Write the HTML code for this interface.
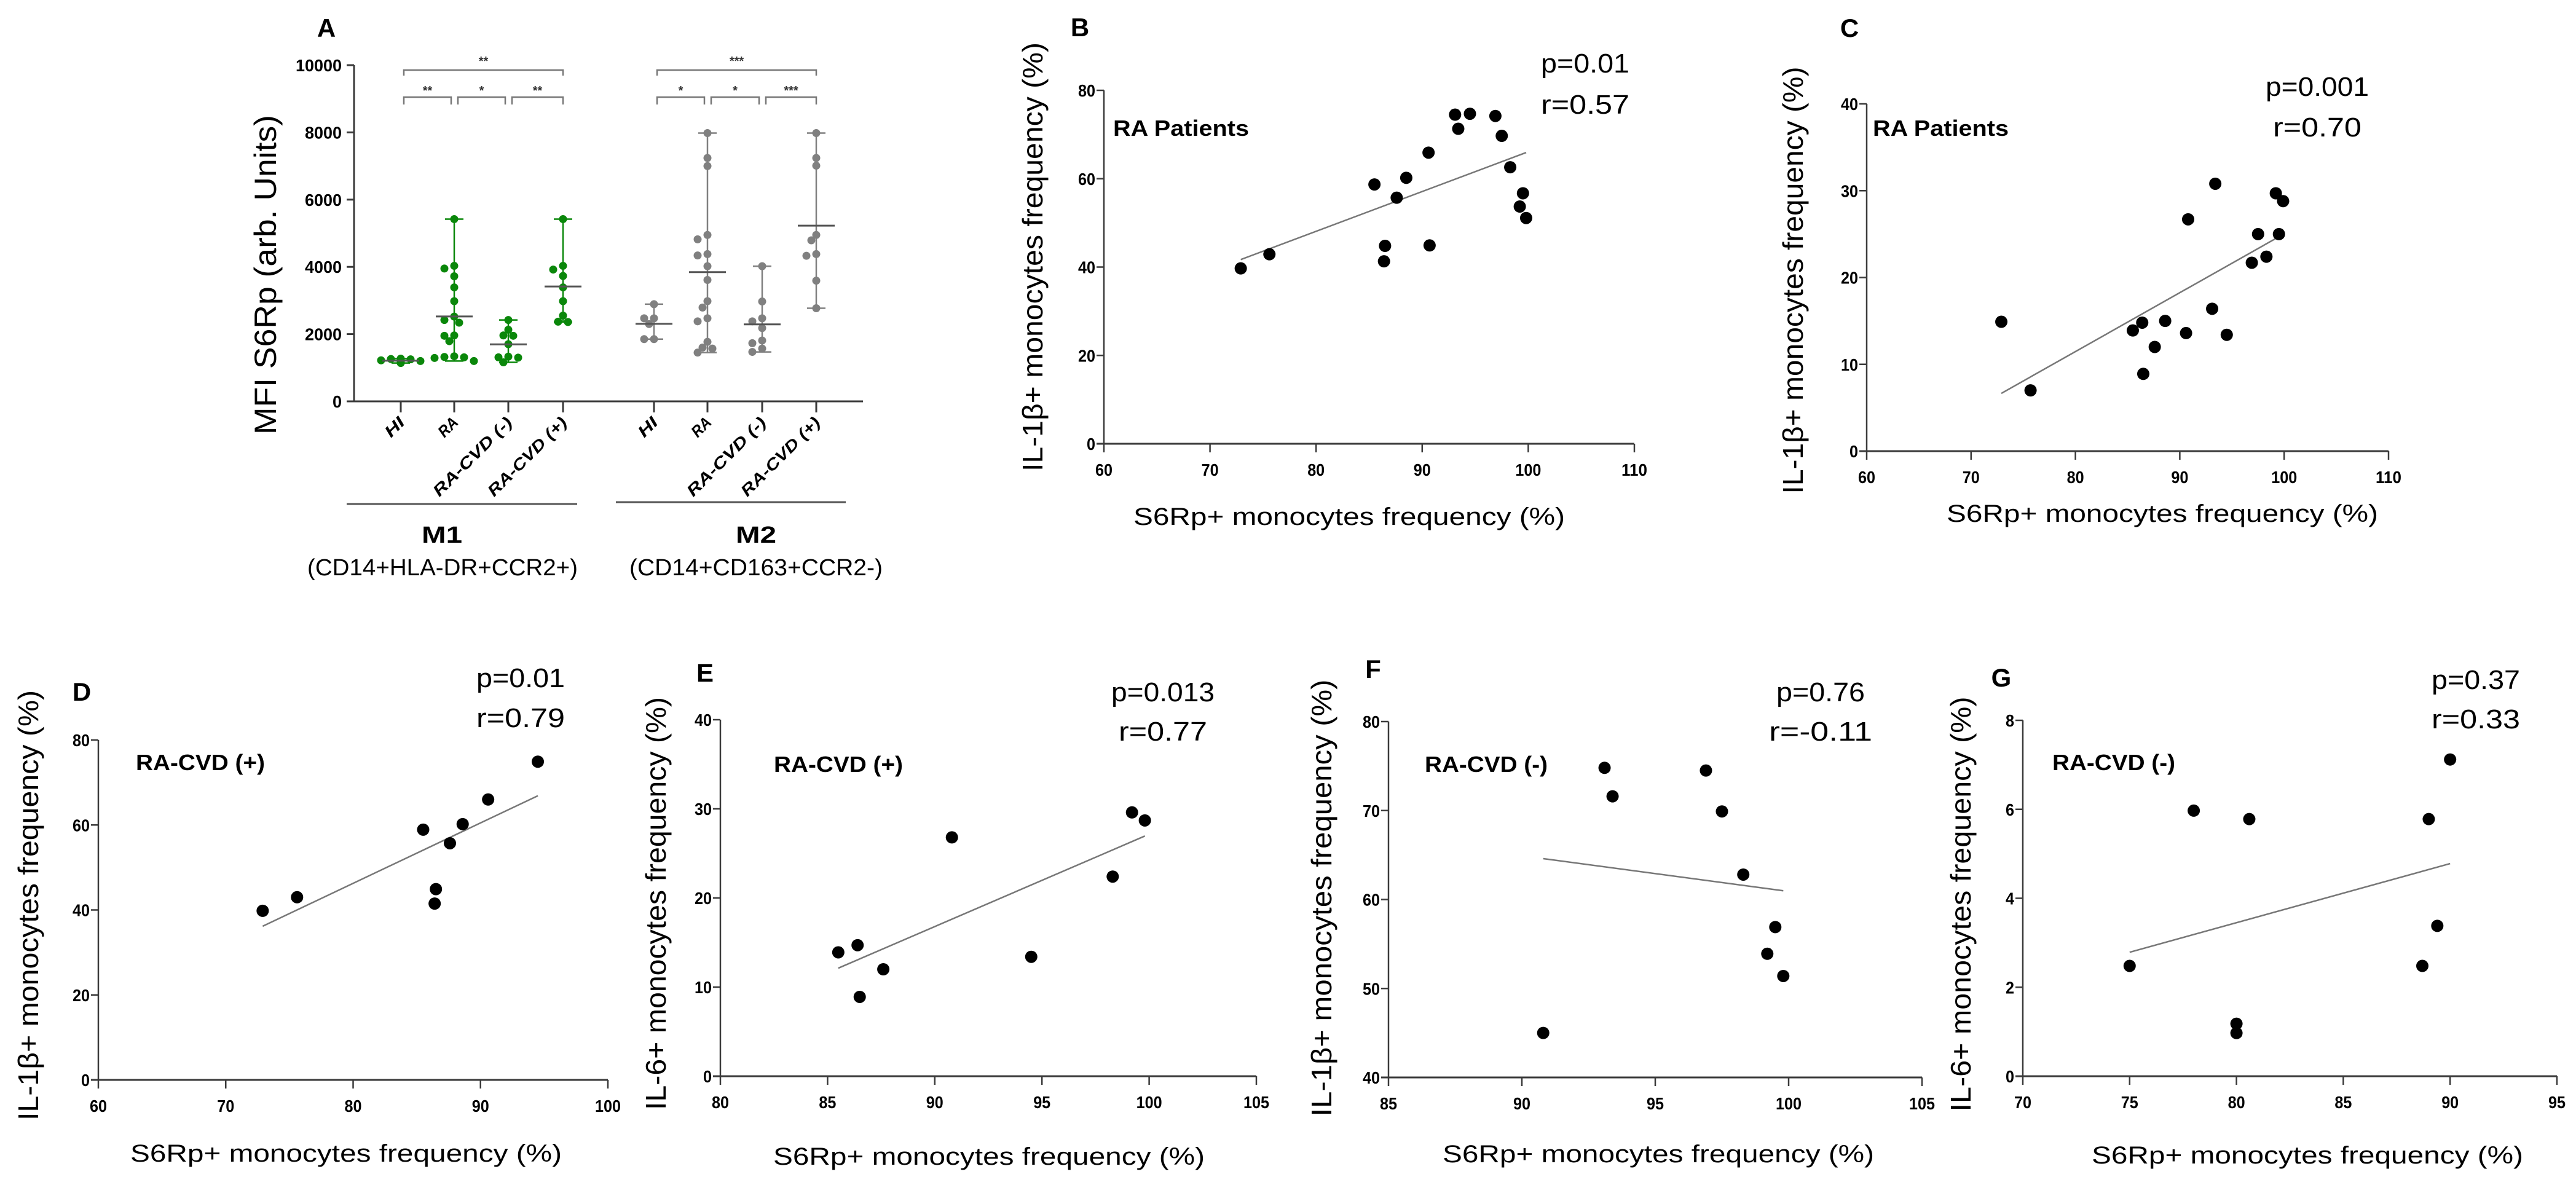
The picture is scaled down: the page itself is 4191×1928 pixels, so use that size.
<!DOCTYPE html>
<html><head><meta charset="utf-8"><style>
html,body{margin:0;padding:0;background:#fff;}
svg{display:block;}
text{font-family:"Liberation Sans",sans-serif;}
</style></head><body>
<svg id="fig" width="4191" height="1928" viewBox="0 0 4191 1928" xmlns="http://www.w3.org/2000/svg"></svg>
<script>
// ---------- Panel A data ----------
const aCategories = ["HI","RA","RA-CVD (-)","RA-CVD (+)"];
const aYTicks = [0,2000,4000,6000,8000,10000];
const m1HI = [1150,1200,1250,1180,1220,1260,1140,1270];
const m1RA = [5420,4030,3950,3720,3390,2980,2520,2420,2340,1960,1950,1790,1340,1310,1200,1320,1290];
const m1CVDneg = [2420,2130,1960,1950,1700,1330,1300,1160,1310];
const m1CVDpos = [5420,4030,3920,3730,3390,2980,2550,2370,2360];
const m2HI = [2890,2470,2470,2300,1850,1850];
const m2RA = [7980,7240,7000,4950,4820,4380,4340,4020,3610,2980,2790,2470,2380,1770,1570,1450,1600];
const m2CVDneg = [4020,2970,2470,2380,2180,1810,1730,1570,1470];
const m2CVDpos = [7980,7240,7010,4950,4790,4380,4330,3590,2770];
const m1Stars = ["**","*","**"], m1TopStar = "**";
const m2Stars = ["*","*","***"], m2TopStar = "***";

// ---------- Scatter data ----------
const bX = [72.9,75.6,85.5,88.5,87.6,86.5,86.4,90.6,90.7,93.1,94.5,93.4,96.9,97.5,98.3,99.5,99.2,99.8];
const bY = [39.7,42.9,58.7,60.2,55.7,44.8,41.3,65.9,44.9,74.5,74.7,71.3,74.2,69.7,62.6,56.7,53.7,51.1];
const bXTicks = [60,70,80,90,100,110], bYTicks = [0,20,40,60,80];
const cX = [72.9,75.7,85.5,86.4,86.5,87.6,88.6,90.6,90.8,93.1,93.4,94.5,96.9,97.5,98.3,99.2,99.5,99.9];
const cY = [14.9,7.0,13.9,14.8,8.9,12.0,15.0,13.6,26.7,16.4,30.8,13.4,21.7,25.0,22.4,29.7,25.0,28.8];
const cXTicks = [60,70,80,90,100,110], cYTicks = [0,10,20,30,40];
const dX = [72.9,75.6,85.5,88.6,87.6,86.5,86.4,90.6,94.5];
const dY = [39.8,43.0,58.9,60.2,55.7,44.9,41.5,66.0,74.9];
const dXTicks = [60,70,80,90,100], dYTicks = [0,20,40,60,80];
const eX = [85.5,86.4,86.5,87.6,90.8,94.5,98.3,99.2,99.8];
const eY = [13.9,14.7,8.9,12.0,26.8,13.4,22.4,29.6,28.7];
const eXTicks = [80,85,90,95,100,105], eYTicks = [0,10,20,30,40];
const fX = [90.8,93.1,93.4,96.9,97.5,98.3,99.5,99.2,99.8];
const fY = [45.0,74.8,71.6,74.5,69.9,62.8,56.9,53.9,51.4];
const fXTicks = [85,90,95,100,105], fYTicks = [40,50,60,70,80];
const gX = [75.0,78.0,80.6,80.0,80.0,88.7,89.0,89.4,90.0];
const gY = [2.48,5.97,5.78,1.18,0.97,2.48,5.78,3.38,7.12];
const gXTicks = [70,75,80,85,90,95], gYTicks = [0,2,4,6,8];

const NS = "http://www.w3.org/2000/svg";
const svg = document.getElementById('fig');
function mk(tag, attrs, parent){
  const e = document.createElementNS(NS, tag);
  for (const k in attrs) e.setAttribute(k, attrs[k]);
  (parent||svg).appendChild(e);
  return e;
}
function txt(str, attrs, parent){
  const e = mk('text', attrs, parent);
  e.textContent = str;
  return e;
}
function group(name){
  const g = mk('g', {});
  
  
  return g;
}
const AX = "#3a3a3a";

// ---------- Panel A ----------
(function(){
  const g = group('panel-a');
  const y = v => 653 - v * 0.0547;
  const xs1 = [652,739,827,916], xs2 = [1064,1151,1240,1328];
  let e = txt('A', {x:531, y:60, 'font-size':42, 'font-weight':'bold', 'text-anchor':'middle'}, g);
   
  e = txt('MFI S6Rp (arb. Units)', {x:0,y:0,'font-size':50,'text-anchor':'middle',transform:'translate(449,447) rotate(-90)',textLength:520,lengthAdjust:'spacingAndGlyphs'}, g);
   
  e = mk('line',{x1:576,y1:y(10000),x2:576,y2:y(0)+1,stroke:AX,'stroke-width':3}, g);
   
  e = mk('line',{x1:575,y1:y(0),x2:1404,y2:y(0),stroke:AX,'stroke-width':3}, g);
   
  aYTicks.forEach(t=>{
    mk('line',{x1:564,y1:y(t),x2:576,y2:y(t),stroke:AX,'stroke-width':3}, g);
    const l = txt(String(t), {x:556,y:y(t)+10,'font-size':28,'font-weight':'bold','text-anchor':'end',textLength:String(t).length*15,lengthAdjust:'spacingAndGlyphs'}, g);
     
  });
  const groups = [[m1HI,m1RA,m1CVDneg,m1CVDpos],[m2HI,m2RA,m2CVDneg,m2CVDpos]];
  const colors = ["#0a870a","#808080"];
  [xs1,xs2].forEach((xs,gi)=>{
    xs.forEach((cx,ci)=>{
      mk('line',{x1:cx,y1:y(0),x2:cx,y2:y(0)+18,stroke:AX,'stroke-width':3}, g);
      const lab = aCategories[ci];
      const tl = txt(lab,{x:0,y:0,'font-size':26,'font-weight':'bold','font-style':'italic','text-anchor':'end',transform:`translate(${cx+8},${y(0)+36}) rotate(-45)`,textLength:lab.length*17,lengthAdjust:'spacingAndGlyphs'}, g);
       
      const vals = groups[gi][ci].slice();
      const sorted = vals.slice().sort((a,b)=>a-b);
      const n = sorted.length;
      const mean = vals.reduce((a,b)=>a+b,0)/n;
      const mn = sorted[0], mx = sorted[n-1];
      const col = colors[gi];
      mk('line',{x1:cx,y1:y(mx),x2:cx,y2:y(mn),stroke:col,'stroke-width':2.5}, g);
      mk('line',{x1:cx-15,y1:y(mx),x2:cx+15,y2:y(mx),stroke:col,'stroke-width':2.5}, g);
      mk('line',{x1:cx-15,y1:y(mn),x2:cx+15,y2:y(mn),stroke:col,'stroke-width':2.5}, g);
      const placed = [];
      sorted.slice().reverse().forEach(v=>{
        const py = y(v);
        const offs = [0,-8,8,-16,16,-24,24,-32,32];
        let chosen = 0;
        for (const o of offs){
          if (placed.every(p=> Math.hypot(p[0]-o, p[1]-py) >= 11)) { chosen = o; break; }
        }
        placed.push([chosen, py]);
        const d = mk('circle',{cx:cx+chosen, cy:py, r:6.5, fill:col}, g);
         
      });
      const ml = mk('line',{x1:cx-30,y1:y(mean),x2:cx+30,y2:y(mean),stroke:'#555','stroke-width':3}, g);
       
    });
    const stars = gi===0 ? m1Stars : m2Stars;
    const top = gi===0 ? m1TopStar : m2TopStar;
    const bc = "#777";
    const bx0 = xs[0]+5, bx1 = xs[3];
    mk('path',{d:`M${bx0} 123 V114 H${bx1} V123`,fill:'none',stroke:bc,'stroke-width':2.5}, g);
    let s = txt(top,{x:(bx0+bx1)/2,y:106,'font-size':20,'font-weight':'bold','text-anchor':'middle',fill:'#333'}, g);
     
    for (let k=0;k<3;k++){
      const a = xs[k]+(k===0?5:6), b = xs[k+1]-(k===2?0:5);
      mk('path',{d:`M${a} 170 V158 H${b} V170`,fill:'none',stroke:bc,'stroke-width':2.5}, g);
      s = txt(stars[k],{x:(a+b)/2,y:154,'font-size':20,'font-weight':'bold','text-anchor':'middle',fill:'#333'}, g);
       
    }
  });
  mk('line',{x1:564,y1:820,x2:939,y2:820,stroke:'#555','stroke-width':3}, g);
  mk('line',{x1:1002,y1:817,x2:1376,y2:817,stroke:'#555','stroke-width':3}, g);
  e = txt('M1',{x:719,y:883,'font-size':38,'font-weight':'bold','text-anchor':'middle',textLength:66,lengthAdjust:'spacingAndGlyphs'}, g);
   
  e = txt('M2',{x:1230,y:883,'font-size':38,'font-weight':'bold','text-anchor':'middle',textLength:66,lengthAdjust:'spacingAndGlyphs'}, g);
   
  e = txt('(CD14+HLA-DR+CCR2+)',{x:720,y:936,'font-size':38,'text-anchor':'middle',textLength:440,lengthAdjust:'spacingAndGlyphs'}, g);
   
  e = txt('(CD14+CD163+CCR2-)',{x:1230,y:936,'font-size':38,'text-anchor':'middle',textLength:412,lengthAdjust:'spacingAndGlyphs'}, g);
   
})();

// ---------- Scatter panels ----------
function scatter(c, xsd, ysd, xt, yt){
  const g = group('panel-'+c.id);
  const X = v => c.px0 + (v - xt[0])/(xt[xt.length-1]-xt[0])*(c.px1-c.px0);
  const Y = v => c.py0 - (v - yt[0])/(yt[yt.length-1]-yt[0])*(c.py0-c.py1);
  let e = mk('line',{x1:c.px0,y1:c.py1,x2:c.px0,y2:c.py0+1,stroke:AX,'stroke-width':2.5}, g);
   
  e = mk('line',{x1:c.px0-12,y1:c.py0,x2:c.px1,y2:c.py0,stroke:AX,'stroke-width':3}, g);
   
  yt.forEach(t=>{
    mk('line',{x1:c.px0-12,y1:Y(t),x2:c.px0,y2:Y(t),stroke:AX,'stroke-width':2.5}, g);
    const l = txt(String(t),{x:c.px0-14,y:Y(t)+10,'font-size':28,'font-weight':'bold','text-anchor':'end',textLength:String(t).length*14,lengthAdjust:'spacingAndGlyphs'}, g);
     
  });
  xt.forEach(t=>{
    mk('line',{x1:X(t),y1:c.py0,x2:X(t),y2:c.py0+14,stroke:AX,'stroke-width':2.5}, g);
    const l = txt(String(t),{x:X(t),y:c.py0+52,'font-size':28,'font-weight':'bold','text-anchor':'middle',textLength:String(t).length*14,lengthAdjust:'spacingAndGlyphs'}, g);
     
  });
  const n = xsd.length;
  const mx = xsd.reduce((a,b)=>a+b,0)/n, my = ysd.reduce((a,b)=>a+b,0)/n;
  let sxy=0,sxx=0;
  for(let i=0;i<n;i++){ sxy+=(xsd[i]-mx)*(ysd[i]-my); sxx+=(xsd[i]-mx)**2; }
  const sl = sxy/sxx, ic = my - sl*mx;
  const xa = Math.min(...xsd), xb = Math.max(...xsd);
  e = mk('line',{x1:X(xa),y1:Y(ic+sl*xa),x2:X(xb),y2:Y(ic+sl*xb),stroke:'#777','stroke-width':2.5}, g);
   
  for(let i=0;i<n;i++){
    const d = mk('circle',{cx:X(xsd[i]),cy:Y(ysd[i]),r:10,fill:'#000'}, g);
     
  }
  e = txt(c.id.toUpperCase(),{x:c.lx,y:c.ly+14,'font-size':42,'font-weight':'bold','text-anchor':'middle'}, g);
   
  e = txt(c.p,{x:c.sx,y:c.sy1+15,'font-size':44,'text-anchor':'middle',textLength:c.p.length*24,lengthAdjust:'spacingAndGlyphs'}, g);
   
  e = txt(c.r,{x:c.sx,y:c.sy2+15,'font-size':44,'text-anchor':'middle',textLength:c.r.length*24,lengthAdjust:'spacingAndGlyphs'}, g);
   
  e = txt(c.grp,{x:c.gx0,y:c.gy+13,'font-size':36,'font-weight':'bold',textLength:c.gw,lengthAdjust:'spacingAndGlyphs'}, g);
   
  e = txt('S6Rp+ monocytes frequency  (%)',{x:c.xlx,y:c.xly+14,'font-size':40,'text-anchor':'middle',textLength:702,lengthAdjust:'spacingAndGlyphs'}, g);
   
  e = txt(c.ylab,{x:0,y:0,'font-size':46,'text-anchor':'middle',transform:`translate(${c.ylx+16},${c.yly}) rotate(-90)`,textLength:c.ylw,lengthAdjust:'spacingAndGlyphs'}, g);
   
}
const IL1 = 'IL-1\u03B2+ monocytes frequency  (%)', IL6 = 'IL-6+ monocytes frequency  (%)';
scatter({id:'b',px0:1796,px1:2659,py0:722,py1:147,lx:1757,ly:45,p:'p=0.01',r:'r=0.57',sx:2579,sy1:103,sy2:170,grp:'RA Patients',gx0:1811,gy:208,gw:221,xlx:2195,xly:840,ylab:IL1,ylx:1680,yly:418,ylw:698}, bX,bY,bXTicks,bYTicks);
scatter({id:'c',px0:3037,px1:3886,py0:734,py1:169,lx:3009,ly:46,p:'p=0.001',r:'r=0.70',sx:3770,sy1:141,sy2:207,grp:'RA Patients',gx0:3047,gy:208,gw:221,xlx:3518,xly:835,ylab:IL1,ylx:2917,yly:456,ylw:695}, cX,cY,cXTicks,cYTicks);
scatter({id:'d',px0:160,px1:989,py0:1757,py1:1204,lx:133,ly:1126,p:'p=0.01',r:'r=0.79',sx:847,sy1:1103,sy2:1168,grp:'RA-CVD (+)',gx0:221,gy:1240,gw:210,xlx:563,xly:1876,ylab:IL1,ylx:46,yly:1473,ylw:700}, dX,dY,dXTicks,dYTicks);
scatter({id:'e',px0:1172,px1:2044,py0:1751,py1:1171,lx:1147,ly:1095,p:'p=0.013',r:'r=0.77',sx:1892,sy1:1126,sy2:1190,grp:'RA-CVD (+)',gx0:1259,gy:1243,gw:210,xlx:1609,xly:1881,ylab:IL6,ylx:1067,yly:1470,ylw:672}, eX,eY,eXTicks,eYTicks);
scatter({id:'f',px0:2259,px1:3127,py0:1753,py1:1174,lx:2234,ly:1089,p:'p=0.76',r:'r=-0.11',sx:2962,sy1:1126,sy2:1190,grp:'RA-CVD (-)',gx0:2318,gy:1243,gw:200,xlx:2698,xly:1877,ylab:IL1,ylx:2150,yly:1461,ylw:711}, fX,fY,fXTicks,fYTicks);
scatter({id:'g',px0:3291,px1:4160,py0:1751,py1:1172,lx:3256,ly:1103,p:'p=0.37',r:'r=0.33',sx:4028,sy1:1106,sy2:1170,grp:'RA-CVD (-)',gx0:3339,gy:1240,gw:200,xlx:3754,xly:1879,ylab:IL6,ylx:3190,yly:1471,ylw:675}, gX,gY,gXTicks,gYTicks);
</script>
</body></html>
